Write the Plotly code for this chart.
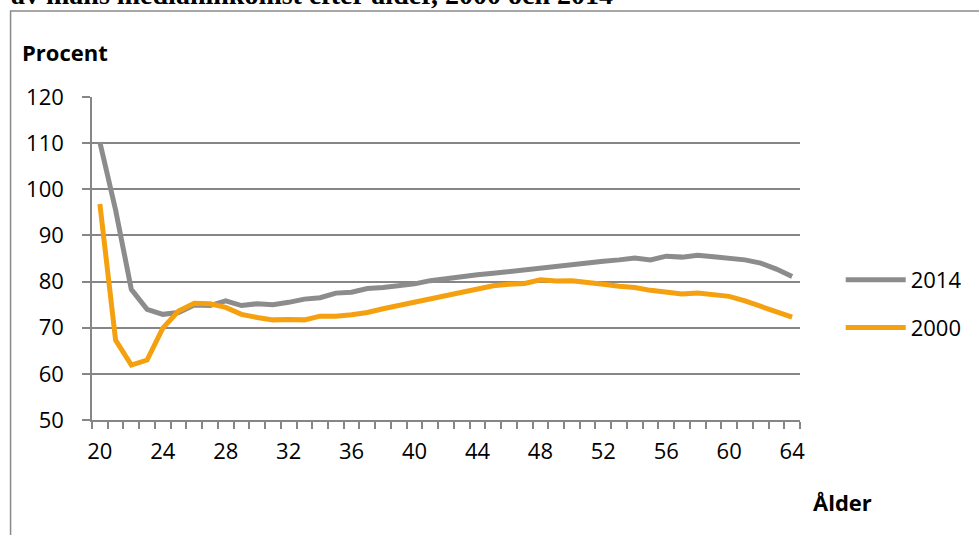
import plotly.graph_objects as go

ages = list(range(20, 65))
values_2014 = [110.2, 95.5, 78.3, 74.0, 72.9, 73.3, 74.9, 74.8, 75.8, 74.8,
               75.2, 75.0, 75.5, 76.2, 76.5, 77.5, 77.7, 78.5, 78.7, 79.0,
               79.5, 80.2, 80.7, 81.0, 81.5, 81.8, 82.2, 82.4, 82.8, 83.2,
               83.6, 84.2, 84.4, 84.7, 85.1, 84.7, 85.5, 85.3, 85.7, 85.4,
               85.1, 84.7, 84.0, 82.7, 81.1]
values_2000 = [96.8, 67.3, 61.9, 63.0, 69.9, 73.6, 75.3, 75.2, 74.4, 72.9,
               72.2, 71.7, 71.8, 71.7, 72.5, 72.5, 72.8, 73.3, 74.1, 74.8,
               75.7, 76.2, 77.0, 77.6, 78.5, 79.1, 79.4, 79.6, 80.4, 80.1,
               80.2, 79.9, 79.4, 79.0, 78.7, 78.1, 77.7, 77.3, 77.5, 77.2,
               76.8, 75.8, 74.6, 73.5, 72.3]
x_tick_labels = [20, 24, 28, 32, 36, 40, 44, 48, 52, 56, 60, 64]
y_ticks = [50, 60, 70, 80, 90, 100, 110, 120]

GRAY = "#8c8c8c"
ORANGE = "#f5a00f"
AXIS = "#868686"
FONT = "Open Sans"
FS = 22

fig = go.Figure()
fig.add_trace(go.Scatter(x=ages, y=values_2014, name="2014", mode="lines",
                         line=dict(color=GRAY, width=5), legendgroup="a"))
fig.add_trace(go.Scatter(x=ages, y=values_2000, name="2000", mode="lines",
                         line=dict(color=ORANGE, width=5), legendgroup="b"))

W, H = 979, 535
ml, mr, mt, mb = 92, 174, 97, 115
pw, ph = W - ml - mr, H - mt - mb

def px(x):
    return (x - ml) / pw

def py(y):
    return (H - mb - y) / ph

fig.update_layout(
    width=W, height=H,
    margin=dict(l=ml, r=mr, t=mt, b=mb, pad=0),
    paper_bgcolor="white", plot_bgcolor="white",
    font=dict(family=FONT, size=FS, color="black"),
    showlegend=True,
    legend=dict(x=px(846), y=py(304), xanchor="left", yanchor="middle",
                font=dict(size=FS, family=FONT), traceorder="grouped",
                tracegroupgap=16, itemwidth=60, bgcolor="rgba(0,0,0,0)"),
    xaxis=dict(range=[19.5, 64.5], tickmode="array", tickvals=x_tick_labels,
               ticktext=[str(v) for v in x_tick_labels], ticks="", showgrid=False,
               showline=True, linecolor=AXIS, linewidth=1.5, zeroline=False,
               ticklabelstandoff=11,
               minor=dict(tickmode="linear", tick0=19.5, dtick=1, ticks="outside",
                          ticklen=7, tickcolor=AXIS, tickwidth=1.5, showgrid=False),
               tickfont=dict(size=FS, family=FONT)),
    yaxis=dict(range=[50, 120], tickmode="array", tickvals=y_ticks,
               ticks="outside", ticklen=8, tickcolor=AXIS, tickwidth=1.5,
               showgrid=True, gridcolor=AXIS, gridwidth=1.5,
               showline=True, linecolor=AXIS, linewidth=1.5, zeroline=False,
               ticklabelstandoff=14, tickfont=dict(size=FS, family=FONT)),
    shapes=[dict(type="rect", xref="paper", yref="paper",
                 x0=px(10), y0=py(900), x1=px(1500), y1=py(11),
                 line=dict(color="#8a8a8a", width=1.5), fillcolor="rgba(0,0,0,0)",
                 layer="below")],
    annotations=[
        dict(text="<b>Procent</b>", xref="paper", yref="paper", x=px(19), y=py(52),
             xanchor="left", yanchor="middle", showarrow=False,
             font=dict(size=FS, family=FONT)),
        dict(text="<b>Ålder</b>", xref="paper", yref="paper", x=px(848), y=py(502),
             xanchor="center", yanchor="middle", showarrow=False,
             font=dict(size=FS, family=FONT)),
        dict(text="<b>av mäns medianinkomst efter ålder, 2000 och 2014</b>",
             xref="paper", yref="paper", x=px(8), y=py(12),
             xanchor="left", yanchor="bottom", showarrow=False,
             font=dict(size=28, family="Liberation Serif")),
    ],
)

fig.write_html("out.html", post_script="document.body.style.margin='0';",
               config={"displayModeBar": False})
